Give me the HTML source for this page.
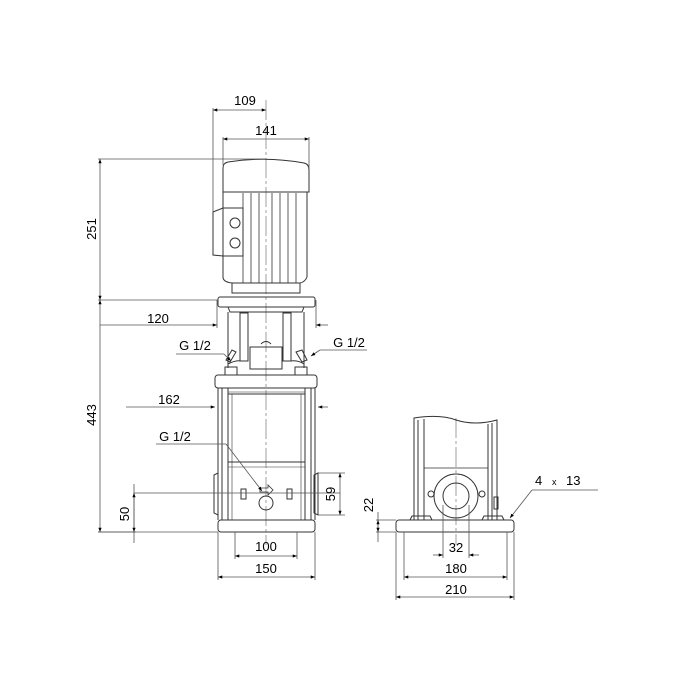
<!DOCTYPE html>
<html><head><meta charset="utf-8"><style>html,body{margin:0;padding:0;background:#fff}svg{display:block}</style></head>
<body>
<svg width="700" height="700" viewBox="0 0 700 700" xmlns="http://www.w3.org/2000/svg" font-family="Liberation Sans, sans-serif" font-size="13" fill="none" stroke="#333" stroke-width="1">
<defs>
<marker id="a" viewBox="0 0 8 6" refX="8" refY="3" markerWidth="6" markerHeight="4" orient="auto-start-reverse"><path d="M0,0L8,3L0,6z" fill="#000" stroke="none"/></marker>
</defs>
<g stroke="#888" stroke-width="0.8">
<line x1="266" y1="100" x2="266" y2="545" stroke-dasharray="20,3,3,3"/>
<line x1="456" y1="418" x2="456" y2="545" stroke-dasharray="20,3,3,3"/>
</g>
<path d="M223,168 Q223,163 228,162 Q266,156 304,163 Q309,164 309,170 L309,192 L223,192 Z"/>
<path d="M223,192 L307,192 L307,277 Q305,282 300,283 L232,283 Q223,282 223,277 Z"/>
<path d="M213,212 L223,208 L243,208 L243,256 L223,256 L213,255 Z"/>
<circle cx="235" cy="223" r="5"/><circle cx="235" cy="243" r="5"/>
<g stroke-width="0.8">
<line x1="243" y1="193" x2="243" y2="283"/><line x1="251" y1="193" x2="251" y2="283"/>
<line x1="259" y1="193" x2="259" y2="283"/><line x1="272" y1="193" x2="272" y2="283"/>
<line x1="280" y1="193" x2="280" y2="283"/><line x1="288" y1="193" x2="288" y2="283"/>
<line x1="296" y1="193" x2="296" y2="283"/>
</g>
<path d="M232,283 L232,293 L300,293 L300,283"/>
<rect x="218" y="297" width="97" height="10" rx="2"/>
<path d="M228,307 L230,312 L302,312 L304,307"/>
<rect x="240" y="313" width="8" height="48"/><rect x="283" y="313" width="8" height="48"/>
<line x1="228" y1="312" x2="228" y2="368"/><line x1="304" y1="312" x2="304" y2="368"/>
<rect x="250" y="347" width="32" height="22"/>
<path d="M261,344 Q266,339 271,344"/>
<path d="M228,364 Q236,360 240,361 M291,361 Q298,360 304,364"/>
<path d="M226,360 L232,350 L236,352 L230,362 Z"/><path d="M296,352 L302,350 L307,360 L302,362 Z"/>
<rect x="225" y="367" width="12" height="8"/><rect x="295" y="367" width="12" height="8"/>
<rect x="215" y="375" width="102" height="13" rx="3"/>
<rect x="222" y="388" width="6" height="132"/><rect x="305" y="388" width="6" height="132"/>
<line x1="218" y1="388" x2="218" y2="520"/><line x1="315" y1="388" x2="315" y2="520"/>
<line x1="228" y1="394" x2="305" y2="394"/><line x1="228" y1="392" x2="305" y2="392" stroke-width="0.6"/>
<line x1="232" y1="394" x2="232" y2="520" stroke-width="0.6"/><line x1="301" y1="394" x2="301" y2="520" stroke-width="0.6"/>
<path d="M214,475 L218,473 L218,515 L214,513 Z"/><path d="M318,473 L314,475 L314,513 L318,515 Z"/>
<line x1="228" y1="462" x2="305" y2="462"/><line x1="228" y1="467" x2="305" y2="467" stroke-width="0.6"/>
<rect x="241" y="489" width="5" height="10"/><rect x="287" y="489" width="5" height="10"/>
<circle cx="266" cy="503" r="7"/>
<path d="M260,488 L268,488 L268,485 L273,490 L268,495 L268,492 L260,492 Z" stroke-width="0.8"/>
<rect x="218" y="520" width="97" height="12" rx="3"/>
<path d="M414,520 L414,418 Q440,414 456,420 Q475,426 497,420 L497,520"/>
<line x1="418" y1="420" x2="418" y2="520"/><line x1="424" y1="419" x2="424" y2="520"/>
<line x1="488" y1="424" x2="488" y2="520"/><line x1="492" y1="423" x2="492" y2="520"/>
<line x1="424" y1="468" x2="488" y2="468" stroke-width="0.7"/>
<circle cx="456" cy="496" r="22"/><circle cx="456" cy="496" r="13"/>
<circle cx="431" cy="494" r="3"/><circle cx="482" cy="494" r="3"/>
<rect x="494" y="497" width="4" height="12"/>
<path d="M410,520 L412,516 L430,516 L432,520 M482,520 L484,516 L502,516 L504,520"/>
<rect x="396" y="520" width="118" height="12" rx="3"/>
<g stroke-width="0.8" stroke="#555">
<line x1="213" y1="108" x2="213" y2="212"/>
<line x1="213" y1="110" x2="266" y2="110" marker-start="url(#a)" marker-end="url(#a)"/>
<line x1="223" y1="137" x2="223" y2="165"/><line x1="309" y1="137" x2="309" y2="168"/>
<line x1="223" y1="139" x2="309" y2="139" marker-start="url(#a)" marker-end="url(#a)"/>
<line x1="98" y1="159" x2="266" y2="159"/>
<line x1="98" y1="300" x2="218" y2="300"/>
<line x1="100" y1="159" x2="100" y2="300" marker-start="url(#a)" marker-end="url(#a)"/>
<line x1="100" y1="300" x2="100" y2="532" marker-start="url(#a)" marker-end="url(#a)"/>
<line x1="98" y1="532" x2="218" y2="532"/>
<line x1="217" y1="300" x2="217" y2="328"/><line x1="316" y1="300" x2="316" y2="328"/>
<line x1="100" y1="325" x2="217" y2="325" marker-end="url(#a)"/>
<line x1="316" y1="325" x2="328" y2="325" marker-start="url(#a)"/>
<line x1="176" y1="354" x2="224" y2="354"/><line x1="224" y1="354" x2="231" y2="361" marker-end="url(#a)"/>
<line x1="367" y1="350" x2="320" y2="350"/><line x1="320" y1="350" x2="311" y2="356" marker-end="url(#a)"/>
<line x1="126" y1="407" x2="215" y2="407" marker-end="url(#a)"/>
<line x1="318" y1="407" x2="328" y2="407" marker-start="url(#a)"/>
<line x1="156" y1="444" x2="226" y2="444"/><line x1="226" y1="444" x2="262" y2="491" marker-end="url(#a)"/>
<line x1="134" y1="493" x2="340" y2="493"/>
<line x1="134" y1="484" x2="134" y2="543"/>
<line x1="134" y1="493" x2="134" y2="532" marker-start="url(#a)" marker-end="url(#a)"/>
<line x1="98" y1="532" x2="136" y2="532"/>
<line x1="318" y1="473" x2="345" y2="473"/><line x1="318" y1="515" x2="345" y2="515"/>
<line x1="340" y1="473" x2="340" y2="515" marker-start="url(#a)" marker-end="url(#a)"/>
<line x1="235" y1="532" x2="235" y2="559"/><line x1="297" y1="532" x2="297" y2="559"/>
<line x1="235" y1="556" x2="297" y2="556" marker-start="url(#a)" marker-end="url(#a)"/>
<line x1="218" y1="532" x2="218" y2="580"/><line x1="315" y1="532" x2="315" y2="580"/>
<line x1="218" y1="577" x2="315" y2="577" marker-start="url(#a)" marker-end="url(#a)"/>
<line x1="376" y1="520" x2="396" y2="520"/><line x1="376" y1="532" x2="396" y2="532"/>
<line x1="378" y1="512" x2="378" y2="542"/>
<line x1="378" y1="520" x2="378" y2="532" marker-start="url(#a)" marker-end="url(#a)"/>
<line x1="443" y1="505" x2="443" y2="558"/><line x1="469" y1="505" x2="469" y2="558"/>
<line x1="433" y1="555" x2="443" y2="555" marker-end="url(#a)"/><line x1="479" y1="555" x2="469" y2="555" marker-end="url(#a)"/>
<line x1="404" y1="532" x2="404" y2="580"/><line x1="507" y1="532" x2="507" y2="580"/>
<line x1="404" y1="577" x2="507" y2="577" marker-start="url(#a)" marker-end="url(#a)"/>
<line x1="396" y1="532" x2="396" y2="600"/><line x1="514" y1="532" x2="514" y2="600"/>
<line x1="396" y1="597" x2="514" y2="597" marker-start="url(#a)" marker-end="url(#a)"/>
<line x1="598" y1="490" x2="532" y2="490"/><line x1="532" y1="490" x2="510" y2="518" marker-end="url(#a)"/>
</g>
<g fill="#000" stroke="none" font-size="13">
<text x="245" y="105" text-anchor="middle">109</text>
<text x="266" y="135" text-anchor="middle">141</text>
<text transform="translate(96,229) rotate(-90)" text-anchor="middle">251</text>
<text transform="translate(96,415) rotate(-90)" text-anchor="middle">443</text>
<text x="158" y="323" text-anchor="middle">120</text>
<text x="195" y="350" text-anchor="middle">G 1/2</text>
<text x="349" y="347" text-anchor="middle">G 1/2</text>
<text x="169" y="404" text-anchor="middle">162</text>
<text x="175" y="441" text-anchor="middle">G 1/2</text>
<text transform="translate(129,514) rotate(-90)" text-anchor="middle">50</text>
<text transform="translate(335,494) rotate(-90)" text-anchor="middle">59</text>
<text x="266" y="551" text-anchor="middle">100</text>
<text x="266" y="573" text-anchor="middle">150</text>
<text transform="translate(373,505) rotate(-90)" text-anchor="middle">22</text>
<text x="456" y="552" text-anchor="middle">32</text>
<text x="456" y="573" text-anchor="middle">180</text>
<text x="456" y="594" text-anchor="middle">210</text>
<text x="535" y="485">4</text>
<text x="552" y="485" font-size="9">x</text>
<text x="566" y="485">13</text>
</g>
</svg>
</body></html>
